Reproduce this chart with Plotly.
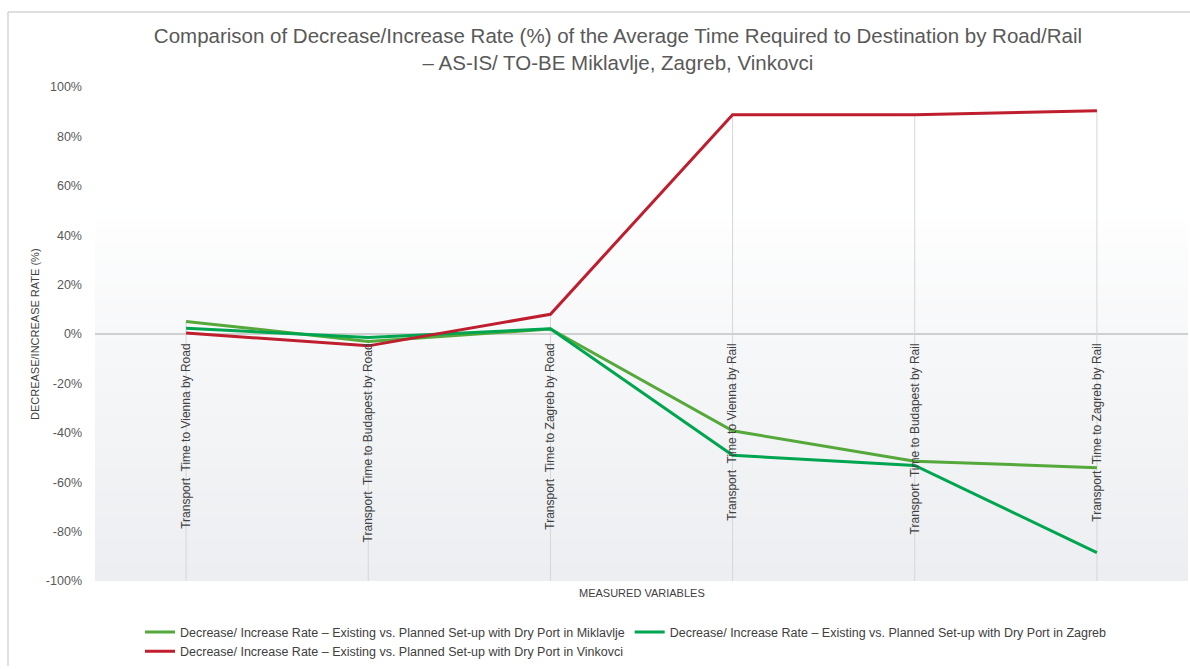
import plotly.graph_objects as go

# Measured variables (category axis)
categories = [
    "Transport  Time to Vienna by Road",
    "Transport  Time to Budapest by Road",
    "Transport  Time to Zagreb by Road",
    "Transport  Time to Vienna by Rail",
    "Transport  Time to Budapest by Rail",
    "Transport  Time to Zagreb by Rail",
]

# Decrease/increase rate (%) per dry-port scenario
miklavlje = [5.1, -3.0, 2.0, -39.2, -51.5, -54.1]
zagreb = [2.3, -1.4, 2.1, -49.1, -53.2, -88.5]
vinkovci = [0.4, -4.8, 8.0, 88.8, 88.8, 90.4]

series_names = [
    "Decrease/ Increase Rate \u2013 Existing vs. Planned Set-up with Dry Port in Miklavlje",
    "Decrease/ Increase Rate \u2013 Existing vs. Planned Set-up with Dry Port in Zagreb",
    "Decrease/ Increase Rate \u2013 Existing vs. Planned Set-up with Dry Port in Vinkovci",
]
series_colors = ["#55a83a", "#00a550", "#be1e2d"]

y_ticks = [-100, -80, -60, -40, -20, 0, 20, 40, 60, 80, 100]
y_tick_text = [f"{v}%" for v in y_ticks]
y_min, y_max = -100, 100

# Canvas geometry
W, H = 1190, 669
L, R, T, B = 95, 2, 87, 81
PW, PH = W - L - R, H - T - B

def px_x(p):
    return (p - L) / PW

def px_y(p):
    return (H - B - p) / PH

fig = go.Figure()

# Drop lines from the highest value at each category to the bottom of the axis
drop_x, drop_y = [], []
for i, c in enumerate(categories):
    top = max(miklavlje[i], zagreb[i], vinkovci[i])
    drop_x += [c, c, None]
    drop_y += [top, y_min, None]
fig.add_trace(go.Scatter(
    x=drop_x, y=drop_y, mode="lines",
    line=dict(color="#d6d6d6", width=1),
    showlegend=False, hoverinfo="skip",
))

for name, vals, col in zip(series_names, [miklavlje, zagreb, vinkovci], series_colors):
    fig.add_trace(go.Scatter(
        x=categories, y=vals, mode="lines", name=name,
        line=dict(color=col, width=3),
    ))

# Soft vertical gradient for the plot background
shapes = []
n_bands = 60
top_rgb = (255, 255, 255)
bot_rgb = (236, 238, 241)
for k in range(n_bands):
    f0 = k / n_bands
    f1 = (k + 1) / n_bands
    t = 1 - (f0 + f1) / 2  # 0 at top, 1 at bottom
    t = max(0.0, (t - 0.25) / 0.75) ** 0.8
    rgb = tuple(round(a + (b - a) * t) for a, b in zip(top_rgb, bot_rgb))
    shapes.append(dict(
        type="rect", xref="x domain", yref="y domain",
        x0=0, x1=1, y0=f0, y1=f1 + 0.002,
        fillcolor="rgb(%d,%d,%d)" % rgb, line=dict(width=0), layer="below",
    ))

# Chart frame (top and left edges)
shapes.append(dict(type="line", xref="paper", yref="paper",
                   x0=px_x(8), x1=px_x(W + 5), y0=px_y(11), y1=px_y(11),
                   line=dict(color="#d4d4d4", width=1.5)))
shapes.append(dict(type="line", xref="paper", yref="paper",
                   x0=px_x(8), x1=px_x(8), y0=px_y(11), y1=px_y(H + 5),
                   line=dict(color="#d4d4d4", width=1.5)))

zero_pos = (0 - y_min) / (y_max - y_min)

fig.update_layout(
    width=W, height=H,
    margin=dict(l=L, r=R, t=T, b=B),
    paper_bgcolor="white",
    plot_bgcolor="rgba(0,0,0,0)",
    font=dict(family="Liberation Sans, Arial, sans-serif", color="#595959"),
    title=dict(
        text="Comparison of Decrease/Increase Rate (%) of the Average Time Required to Destination by Road/Rail"
             "<br>\u2013 AS-IS/ TO-BE Miklavlje, Zagreb, Vinkovci",
        x=618 / W, xanchor="center",
        y=1 - 43 / H, yanchor="middle",
        font=dict(size=20.5, color="#595959"),
    ),
    xaxis=dict(
        type="category", categoryorder="array", categoryarray=categories,
        range=[-0.5, len(categories) - 0.5],
        anchor="free", position=zero_pos,
        showgrid=False, zeroline=False, showline=False,
        tickangle=-90, ticks="", ticklabelstandoff=6,
        tickfont=dict(size=12, color="#404040"),
    ),
    yaxis=dict(
        range=[y_min, y_max], tickmode="array", tickvals=y_ticks, ticktext=y_tick_text,
        showgrid=False, zeroline=True, zerolinecolor="#d0d0d0", zerolinewidth=1.5,
        showline=False, ticks="", ticklabelstandoff=12,
        tickfont=dict(size=12.5, color="#595959"),
    ),
    legend=dict(
        orientation="h", x=px_x(140), xanchor="left", y=px_y(625), yanchor="top",
        font=dict(size=12.5, color="#404040"),
        bgcolor="rgba(0,0,0,0)",
    ),
    shapes=shapes,
    annotations=[
        dict(text="MEASURED VARIABLES", xref="paper", yref="paper",
             x=0.5, y=px_y(600), xanchor="center", yanchor="middle", showarrow=False,
             font=dict(family="Liberation Sans Narrow, Arial Narrow, sans-serif", size=11, color="#404040")),
        dict(text="DECREASE/INCREASE RATE (%)", xref="paper", yref="paper",
             x=px_x(35), y=0.5, xanchor="center", yanchor="middle", textangle=-90,
             showarrow=False,
             font=dict(family="Liberation Sans Narrow, Arial Narrow, sans-serif", size=11, color="#404040")),
    ],
)

fig.write_html("out.html")
